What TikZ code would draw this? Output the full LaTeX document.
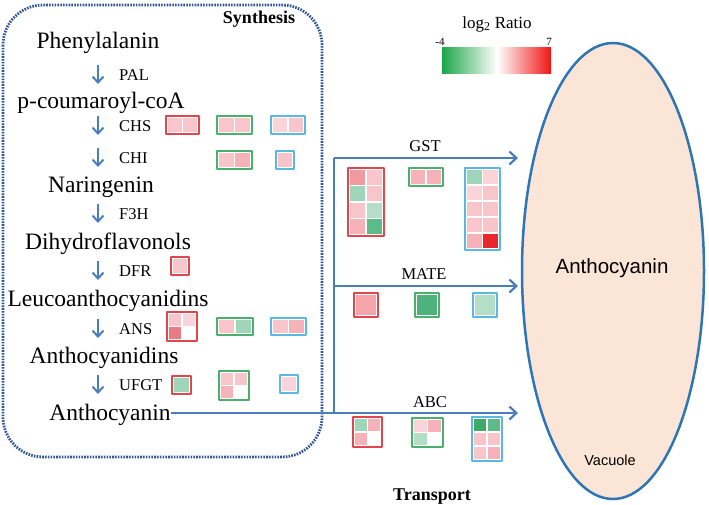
\documentclass[tikz,border=0pt]{standalone}
\usepackage{fontspec}
\setmainfont{Liberation Serif}
\newfontfamily\arialfont{Liberation Sans}
\usetikzlibrary{arrows.meta,calc,positioning}
\definecolor{arrowblue}{HTML}{4A7EBB}
\definecolor{boxblue}{HTML}{2F5597}
\definecolor{ellblue}{HTML}{2E75B6}
\definecolor{vacfill}{HTML}{FBE5D6}
\definecolor{frR}{HTML}{E0474C}
\definecolor{frG}{HTML}{4CAF6E}
\definecolor{frB}{HTML}{5BB8E0}
\definecolor{pkA}{HTML}{FAD4D8}
\definecolor{pkB}{HTML}{F8C5CA}
\definecolor{pkC}{HTML}{F5B3B9}
\definecolor{pkD}{HTML}{F4A5AB}
\definecolor{rdA}{HTML}{F09A9F}
\definecolor{rdB}{HTML}{E97C81}
\definecolor{rdC}{HTML}{E8262B}
\definecolor{gnA}{HTML}{B5DEC8}
\definecolor{gnB}{HTML}{9FD5B8}
\definecolor{gnC}{HTML}{5DBB8A}
\definecolor{gnD}{HTML}{3EAA68}
\definecolor{gnE}{HTML}{4DB27D}
\definecolor{barG}{HTML}{1BA548}
\definecolor{barR}{HTML}{F01515}
\newcommand{\heatbox}[8]{%
  \foreach \i/\j/\c in {#8}
    \fill[\c] ({#1+2+\i*(#5-2.5)/#3},{#2+2+\j*(#6-2.5)/#4}) rectangle ++({(#5-2.5)/#3-1.5},{(#6-2.5)/#4-1.5});
  \draw[#7, frame] (#1,#2) rectangle ++(#5,#6);
}

\begin{document}
\begin{tikzpicture}[x=1pt, y=-1pt, line join=round,
  met/.style={font=\fontsize{23.5}{26}\selectfont, inner sep=0, anchor=base},
  enz/.style={font=\fontsize{16.5}{18}\selectfont, inner sep=0, anchor=base west},
  trn/.style={font=\fontsize{16.5}{18}\selectfont, inner sep=0, anchor=base},
  head/.style={font=\bfseries\fontsize{18}{20}\selectfont, inner sep=0, anchor=base},
  step arrow/.style={arrowblue, line width=2, -{Straight Barb[length=6pt,width=11pt]}},
  trunk/.style={arrowblue, line width=2.2},
  flow/.style={arrowblue, line width=2.2, -{Straight Barb[length=7pt,width=13pt]}},
  frame/.style={line width=1.2}]
\useasboundingbox (0,0) rectangle (709,504);
\draw[boxblue, line width=2.8, dash pattern=on 1.6pt off 1.2pt, rounded corners=40pt] (3,5) rectangle (322,457);
\node[head] (syn) at (259,23) {Synthesis};
\node[head] (tra) at (432,500) {Transport};
\node[met] (phe) at (98,48) {Phenylalanin};
\node[met] (cou) at (101,108) {p-coumaroyl-coA};
\node[met] (nar) at (101,192) {Naringenin};
\node[met] (dih) at (108,249) {Dihydroflavonols};
\node[met] (leu) at (108,306) {Leucoanthocyanidins};
\node[met] (acd) at (104,363) {Anthocyanidins};
\node[met] (acn) at (110,420) {Anthocyanin};
\foreach \t/\y in {PAL/80,CHS/131,CHI/163,F3H/219,DFR/276,ANS/334,UFGT/390}{
  \node[enz] (\t) at (119,\y) {\t};
  \draw[step arrow] ([xshift=-21pt,yshift=15pt]\t.base west) -- ++(0,19);
}
\draw[ellblue, fill=vacfill, line width=2.5] (613,271) ellipse [x radius=91pt, y radius=228pt];
\node[font=\arialfont\fontsize{20.5}{22}\selectfont] (acv) at (612,268) {Anthocyanin};
\node[font=\arialfont\fontsize{14.5}{16}\selectfont] (vac) at (610,460) {Vacuole};
\coordinate (jA) at (334,158);
\coordinate (jM) at (334,286);
\coordinate (jB) at (334,413);
\coordinate (eA) at (518,158);
\coordinate (eM) at (518,286);
\coordinate (eB) at (518,413);
\draw[trunk] (acn.east |- jB) -- (jB) -- (jA);
\foreach \a/\b in {jA/eA,jM/eM,jB/eB}
  \draw[flow] (\a) -- (\b);
\node[trn] (gst) at (425,151) {GST};
\node[trn] (mate) at (424,279) {MATE};
\node[trn] (abc) at (430,407) {ABC};
\node[font=\fontsize{17}{19}\selectfont, inner sep=0, anchor=base] (lg) at (497,28) {log\textsubscript{2} Ratio};
\shade[left color=barG, right color=white] (442,47) rectangle (497,73);
\shade[left color=white, right color=barR] (497,47) rectangle (551,73);
\node[font=\fontsize{11}{12}\selectfont, inner sep=0, anchor=base] (lo) at (440,45) {-4};
\node[font=\fontsize{11}{12}\selectfont, inner sep=0, anchor=base] (hi) at (549,45) {7};
\heatbox{166}{116}{2}{1}{33}{18}{frR}{0/0/pkB,1/0/pkB}
\heatbox{217}{116}{2}{1}{35}{18}{frG}{0/0/pkB,1/0/pkB}
\heatbox{271}{116}{2}{1}{34}{18}{frB}{0/0/pkA,1/0/pkB}
\heatbox{217}{151}{2}{1}{35}{18}{frG}{0/0/pkB,1/0/pkC}
\heatbox{276}{151}{1}{1}{18}{18}{frB}{0/0/pkB}
\heatbox{171}{257}{1}{1}{18}{18}{frR}{0/0/pkB}
\heatbox{167}{312}{2}{2}{30}{29}{frR}{0/0/pkB,1/0/pkA,0/1/rdB,1/1/white}
\heatbox{217}{318}{2}{1}{36}{17}{frG}{0/0/pkB,1/0/gnB}
\heatbox{271}{318}{2}{1}{35}{17}{frB}{0/0/pkB,1/0/pkC}
\heatbox{172}{376}{1}{1}{19}{18}{frR}{0/0/gnB}
\heatbox{219}{371}{2}{2}{30}{29}{frG}{0/0/pkB,1/0/pkB,0/1/pkC,1/1/white}
\heatbox{280}{375}{1}{1}{18}{18}{frB}{0/0/pkA}
\heatbox{348}{168}{2}{4}{36}{68}{frR}{0/0/rdA,1/0/pkB,0/1/gnB,1/1/pkB,0/2/pkB,1/2/gnA,0/3/pkC,1/3/gnC}
\heatbox{409}{168}{2}{1}{34}{18}{frG}{0/0/pkC,1/0/pkC}
\heatbox{465}{168}{2}{5}{35}{82}{frB}{0/0/gnB,1/0/pkA,0/1/pkA,1/1/pkB,0/2/pkB,1/2/pkB,0/3/pkB,1/3/pkB,0/4/pkC,1/4/rdC}
\heatbox{354}{293}{1}{1}{24}{24}{frR}{0/0/pkD}
\heatbox{415}{293}{1}{1}{24}{24}{frG}{0/0/gnE}
\heatbox{473}{293}{1}{1}{24}{24}{frB}{0/0/gnA}
\heatbox{353}{417}{2}{2}{29}{30}{frR}{0/0/gnB,1/0/pkC,0/1/pkC,1/1/white}
\heatbox{412}{418}{2}{2}{31}{29}{frG}{0/0/pkA,1/0/pkC,0/1/gnA,1/1/white}
\heatbox{472}{417}{2}{3}{30}{44}{frB}{0/0/gnD,1/0/gnC,0/1/pkB,1/1/pkB,0/2/pkB,1/2/pkC}
\end{tikzpicture}
\end{document}
